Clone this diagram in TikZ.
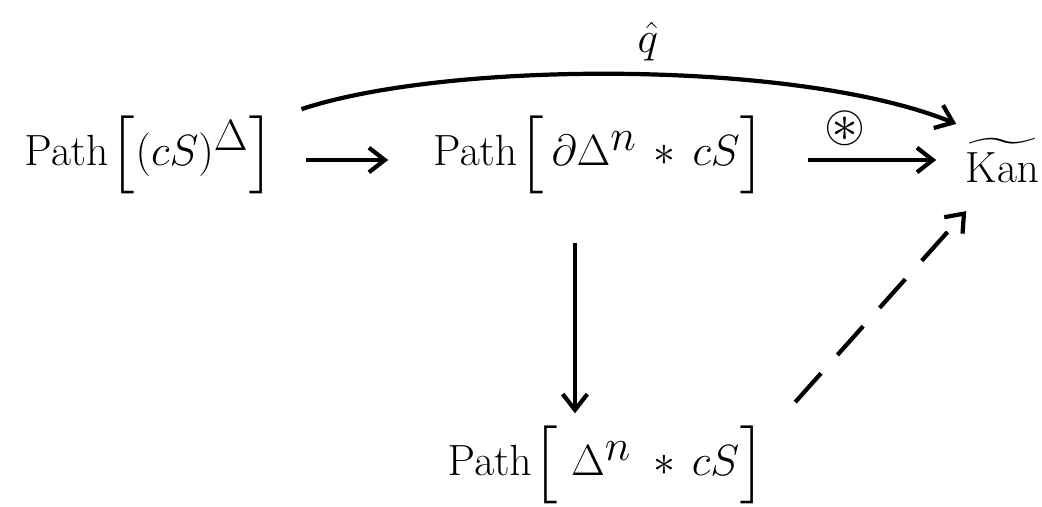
\documentclass[tikz,border=0pt]{standalone}
\usepackage{amsmath,amssymb}
\usetikzlibrary{arrows.meta,calc}
\begin{document}
\begin{tikzpicture}[x=0.02cm,y=-0.02cm,
  obj/.style={inner sep=2pt,font=\fontsize{37}{44}\selectfont},
  arr/.style={line width=2.4pt,-{Straight Barb[length=9pt,width=14pt,line width=2.4pt]}},
  lab/.style={inner sep=1pt,font=\fontsize{30}{36}\selectfont}]
\useasboundingbox (0,0) rectangle (1042,507);
\node[obj] (A) at (150,155) {$\mathrm{Path}\big[(cS)^{\Delta}\big]$};
\node[obj] (B) at (600,155) {$\mathrm{Path}\big[\,\partial\Delta^{n}\,*\,cS\big]$};
\node[obj,font=\fontsize{26}{30}\selectfont] (C) at (1002,160) {$\widetilde{\mathrm{Kan}}$};
\node[obj] (D) at (607,465) {$\mathrm{Path}\big[\;\Delta^{n}\;*\,cS\big]$};
\node[lab] (s) at (845,128) {$\circledast$};
\node[lab] (q) at (648,42) {$\hat{q}$};
\draw[arr] ([shift={(27,5)}]A.east) -- ([shift={(-41,5)}]B.west);
\draw[arr] ([shift={(37,5)}]B.east) -- ([shift={(-25,0)}]C.west);
\draw[arr] ([shift={(22,-3)}]A.north east) .. controls (450,60) and (800,60) .. ([shift={(-5,-10)}]C.north west);
\draw[arr,shorten >=5] ([shift={(-25,45)}]B.south) -- ([shift={(-25,0)}]B.south |- D.north);
\draw[arr,dashed,dash pattern=on 22pt off 14pt] ([shift={(25,-20)}]D.north east) -- ([shift={(5,25)}]C.south west);
\end{tikzpicture}
\end{document}
